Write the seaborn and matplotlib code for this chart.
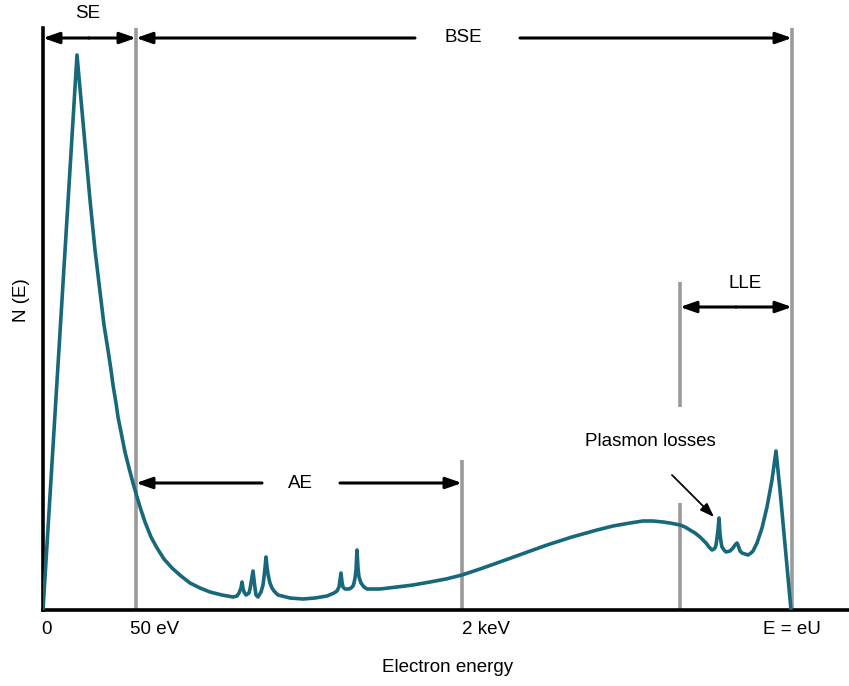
import matplotlib
matplotlib.use("Agg")
import matplotlib.pyplot as plt
import seaborn as sns
import pandas as pd

# ---- data (arbitrary energy units / arbitrary N(E) units) ----
# secondary-electron peak
se_energy = [0, 34, 38, 43, 47, 52, 55, 58, 61, 65, 68, 70, 73, 75, 78, 82, 86, 90, 94,
             98, 102, 108, 114, 121, 129, 138, 147, 157, 167, 179, 190]
se_counts = [0, 555, 510, 455, 410, 360, 335, 310, 285, 260, 240, 225, 207, 193, 178,
             158, 142, 127, 113, 100, 88, 73, 62, 51, 42, 34, 27, 22, 18, 15, 13]
# Auger peaks region
ae_energy = [194, 196, 198, 199, 200, 201, 203, 206, 207, 208, 209, 210, 211, 212, 213,
             215, 218, 220, 221, 222, 223, 224, 225, 226, 227, 229, 231, 235, 247, 260,
             272, 284, 291, 294, 296, 297, 298, 299, 300, 302, 306, 308, 310, 311, 312,
             313, 314, 315, 316, 318, 321, 324]
ae_counts = [14, 17, 22, 28, 22, 18, 15, 17, 21, 27, 33, 39, 30, 22, 15,
             13, 18, 25, 33, 42, 53, 43, 36, 31, 27, 22, 19, 15, 12, 11,
             12, 14, 17, 19, 23, 30, 37, 28, 23, 21, 21, 22, 24, 27, 32,
             40, 60, 42, 33, 27, 23, 21]
# backscattered continuum
bse_energy = [337, 354, 370, 387, 403, 419, 437, 454, 479, 504, 529, 554, 570, 587, 600,
              610, 620, 627, 637, 642, 647, 652, 657, 660, 663, 666]
bse_counts = [21, 23, 25, 28, 31, 35, 41, 47, 56, 65, 73, 80, 84, 87, 89,
              89, 88, 87, 85, 83, 80, 77, 73, 70, 67, 63]
# plasmon losses + elastic peak
lle_energy = [669, 671, 672, 673, 674, 675, 676, 677, 678, 679, 681, 683, 687, 690, 692,
              693, 694, 695, 696, 697, 699, 702, 705, 708, 710, 714, 719, 724, 729, 733,
              737, 742, 748]
lle_counts = [60, 61, 62, 65, 72, 80, 92, 76, 68, 63, 60, 58, 59, 62, 65,
              66, 67, 65, 62, 59, 57, 56, 55, 57, 59, 67, 82, 103, 130, 159,
              120, 65, 0]

tick_pos = [4, 112, 443, 749]
tick_labels = ["0", "50 eV", "2 keV", "E = eU"]

bound_50ev = 93
bound_2kev = 419
bound_lle = 637
bound_eu = 749

df = pd.DataFrame({"energy": se_energy + ae_energy + bse_energy + lle_energy,
                   "counts": se_counts + ae_counts + bse_counts + lle_counts})

sns.set_theme(style="white")
plt.rcParams["font.family"] = ["Liberation Sans", "DejaVu Sans"]
plt.rcParams["text.color"] = "black"
plt.rcParams["axes.labelcolor"] = "black"
plt.rcParams["xtick.color"] = "black"

W, H = 849, 686
fig = plt.figure(figsize=(W / 100, H / 100), dpi=100)
ax = fig.add_axes([43 / W, (H - 610) / H, (W - 43) / W, (610 - 28) / H])
ax.set_xlim(0, 806)
ax.set_ylim(0, 582)

gray = "#9a9a9a"
ax.vlines(bound_50ev, 0, 582, color=gray, lw=2.6, zorder=1)
ax.vlines(bound_eu, 0, 582, color=gray, lw=2.6, zorder=1)
ax.vlines(bound_2kev, 0, 150, color=gray, lw=2.6, zorder=1)
ax.vlines(bound_lle, 203, 328, color=gray, lw=2.6, zorder=1)
ax.vlines(bound_lle, 0, 107, color=gray, lw=2.6, zorder=1)

sns.lineplot(data=df, x="energy", y="counts", sort=False, estimator=None,
             color="#17687a", lw=2.6, ax=ax, zorder=3)

for s in ["top", "right"]:
    ax.spines[s].set_visible(False)
for s in ["left", "bottom"]:
    ax.spines[s].set_color("black")
    ax.spines[s].set_linewidth(2.6)

ax.set_xticks(tick_pos)
ax.set_xticklabels(tick_labels, fontsize=13.5, color="black")
ax.set_yticks([])
ax.tick_params(axis="x", length=0, pad=8)

ax.set_ylabel("N (E)", fontsize=13.5, color="black")
ax.yaxis.set_label_coords(-21 / 806, 0.533)
ax.set_xlabel("Electron energy", fontsize=13.5, color="black")
ax.xaxis.set_label_coords(0.502, -58 / 582)
ax.xaxis.label.set_va("center")
ax.yaxis.label.set_va("center")

aprops = dict(arrowstyle="-|>,head_length=0.8,head_width=0.28", color="black",
              lw=2.2, shrinkA=0, shrinkB=0)

def arrow(x0, x1, y):
    ax.annotate("", xy=(x1, y), xytext=(x0, y), arrowprops=aprops,
                annotation_clip=False, zorder=4)

# SE
arrow(46, 0, 572); arrow(46, bound_50ev, 572)
ax.text(45, 596, "SE", ha="center", va="center", fontsize=13.5, clip_on=False, color="black")
# BSE
arrow(372, bound_50ev, 572); arrow(477, bound_eu, 572)
ax.text(420, 572, "BSE", ha="center", va="center", fontsize=13.5, color="black")
# AE
arrow(219, bound_50ev, 127); arrow(297, bound_2kev, 127)
ax.text(257, 127, "AE", ha="center", va="center", fontsize=13.5, color="black")
# LLE
arrow(693, bound_lle, 303); arrow(693, bound_eu, 303)
ax.text(702, 326, "LLE", ha="center", va="center", fontsize=13.5, color="black")
# Plasmon losses
ax.text(607, 168, "Plasmon losses", ha="center", va="center", fontsize=13.5, color="black")
ax.annotate("", xy=(671, 93), xytext=(629, 135),
            arrowprops=dict(arrowstyle="-|>,head_length=0.7,head_width=0.25",
                            color="black", lw=1.3, shrinkA=0, shrinkB=0))

fig.savefig("out.png", dpi=100)
